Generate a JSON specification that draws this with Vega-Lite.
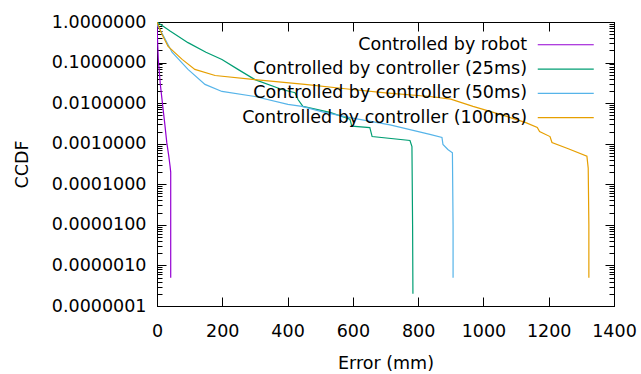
{
  "$schema": "https://vega.github.io/schema/vega-lite/v6.json",
  "width": 457,
  "height": 284,
  "autosize": {"type": "none"},
  "padding": {"left": 157, "top": 22, "right": 27, "bottom": 68},
  "background": "white",
  "config": {
    "view": {"stroke": "black", "strokeWidth": 1},
    "font": "DejaVu Sans",
    "axis": {
      "grid": false,
      "domainColor": "black",
      "tickColor": "black",
      "labelColor": "black",
      "titleColor": "black",
      "labelFont": "DejaVu Sans",
      "labelFontSize": 17.5,
      "titleFont": "DejaVu Sans",
      "titleFontSize": 17.5,
      "titleFontWeight": "normal",
      "domainWidth": 1,
      "tickWidth": 1,
      "labelFlush": false
    }
  },
  "data": {
    "values": [
      {"series": "Controlled by robot", "x": 0, "y": 1},
      {"series": "Controlled by robot", "x": 1, "y": 0.5},
      {"series": "Controlled by robot", "x": 4, "y": 0.12},
      {"series": "Controlled by robot", "x": 10, "y": 0.03},
      {"series": "Controlled by robot", "x": 17, "y": 0.0093},
      {"series": "Controlled by robot", "x": 24, "y": 0.003},
      {"series": "Controlled by robot", "x": 30, "y": 0.00106},
      {"series": "Controlled by robot", "x": 36, "y": 0.0005},
      {"series": "Controlled by robot", "x": 40, "y": 0.00028},
      {"series": "Controlled by robot", "x": 42, "y": 0.0002},
      {"series": "Controlled by robot", "x": 42, "y": 0.00001},
      {"series": "Controlled by robot", "x": 42, "y": 5e-7},

      {"series": "Controlled by controller (25ms)", "x": 0, "y": 1},
      {"series": "Controlled by controller (25ms)", "x": 40, "y": 0.6},
      {"series": "Controlled by controller (25ms)", "x": 95, "y": 0.31},
      {"series": "Controlled by controller (25ms)", "x": 150, "y": 0.18},
      {"series": "Controlled by controller (25ms)", "x": 199, "y": 0.119},
      {"series": "Controlled by controller (25ms)", "x": 248, "y": 0.068},
      {"series": "Controlled by controller (25ms)", "x": 300, "y": 0.038},
      {"series": "Controlled by controller (25ms)", "x": 383, "y": 0.0217},
      {"series": "Controlled by controller (25ms)", "x": 423, "y": 0.018},
      {"series": "Controlled by controller (25ms)", "x": 432, "y": 0.0123},
      {"series": "Controlled by controller (25ms)", "x": 447, "y": 0.0083},
      {"series": "Controlled by controller (25ms)", "x": 530, "y": 0.0059},
      {"series": "Controlled by controller (25ms)", "x": 591, "y": 0.004},
      {"series": "Controlled by controller (25ms)", "x": 597, "y": 0.0027},
      {"series": "Controlled by controller (25ms)", "x": 652, "y": 0.0025},
      {"series": "Controlled by controller (25ms)", "x": 659, "y": 0.0015},
      {"series": "Controlled by controller (25ms)", "x": 775, "y": 0.0012},
      {"series": "Controlled by controller (25ms)", "x": 781, "y": 0.00085},
      {"series": "Controlled by controller (25ms)", "x": 783, "y": 0.00001},
      {"series": "Controlled by controller (25ms)", "x": 784, "y": 2e-7},

      {"series": "Controlled by controller (50ms)", "x": 0, "y": 1},
      {"series": "Controlled by controller (50ms)", "x": 3, "y": 0.78},
      {"series": "Controlled by controller (50ms)", "x": 20, "y": 0.45},
      {"series": "Controlled by controller (50ms)", "x": 46, "y": 0.18},
      {"series": "Controlled by controller (50ms)", "x": 95, "y": 0.068},
      {"series": "Controlled by controller (50ms)", "x": 147, "y": 0.029},
      {"series": "Controlled by controller (50ms)", "x": 199, "y": 0.0194},
      {"series": "Controlled by controller (50ms)", "x": 300, "y": 0.0146},
      {"series": "Controlled by controller (50ms)", "x": 401, "y": 0.0093},
      {"series": "Controlled by controller (50ms)", "x": 444, "y": 0.0083},
      {"series": "Controlled by controller (50ms)", "x": 510, "y": 0.006},
      {"series": "Controlled by controller (50ms)", "x": 591, "y": 0.0044},
      {"series": "Controlled by controller (50ms)", "x": 714, "y": 0.0029},
      {"series": "Controlled by controller (50ms)", "x": 836, "y": 0.0017},
      {"series": "Controlled by controller (50ms)", "x": 873, "y": 0.00143},
      {"series": "Controlled by controller (50ms)", "x": 876, "y": 0.00096},
      {"series": "Controlled by controller (50ms)", "x": 891, "y": 0.00072},
      {"series": "Controlled by controller (50ms)", "x": 905, "y": 0.0006},
      {"series": "Controlled by controller (50ms)", "x": 907, "y": 0.00001},
      {"series": "Controlled by controller (50ms)", "x": 907, "y": 5e-7},

      {"series": "Controlled by controller (100ms)", "x": 0, "y": 1},
      {"series": "Controlled by controller (100ms)", "x": 15, "y": 0.5},
      {"series": "Controlled by controller (100ms)", "x": 34, "y": 0.25},
      {"series": "Controlled by controller (100ms)", "x": 77, "y": 0.12},
      {"series": "Controlled by controller (100ms)", "x": 116, "y": 0.068},
      {"series": "Controlled by controller (100ms)", "x": 178, "y": 0.048},
      {"series": "Controlled by controller (100ms)", "x": 300, "y": 0.038},
      {"series": "Controlled by controller (100ms)", "x": 453, "y": 0.029},
      {"series": "Controlled by controller (100ms)", "x": 591, "y": 0.022},
      {"series": "Controlled by controller (100ms)", "x": 700, "y": 0.018},
      {"series": "Controlled by controller (100ms)", "x": 836, "y": 0.0146},
      {"series": "Controlled by controller (100ms)", "x": 900, "y": 0.0125},
      {"series": "Controlled by controller (100ms)", "x": 968, "y": 0.0083},
      {"series": "Controlled by controller (100ms)", "x": 1072, "y": 0.0047},
      {"series": "Controlled by controller (100ms)", "x": 1130, "y": 0.0033},
      {"series": "Controlled by controller (100ms)", "x": 1165, "y": 0.0025},
      {"series": "Controlled by controller (100ms)", "x": 1172, "y": 0.002},
      {"series": "Controlled by controller (100ms)", "x": 1204, "y": 0.0015},
      {"series": "Controlled by controller (100ms)", "x": 1210, "y": 0.00107},
      {"series": "Controlled by controller (100ms)", "x": 1260, "y": 0.00075},
      {"series": "Controlled by controller (100ms)", "x": 1317, "y": 0.00049},
      {"series": "Controlled by controller (100ms)", "x": 1321, "y": 0.00025},
      {"series": "Controlled by controller (100ms)", "x": 1323, "y": 0.00001},
      {"series": "Controlled by controller (100ms)", "x": 1323, "y": 5e-7}
    ]
  },
  "layer": [
    {
      "mark": {"type": "line", "strokeWidth": 1.2, "clip": true},
      "encoding": {
        "x": {
          "field": "x", "type": "quantitative",
          "scale": {"domain": [0, 1400], "nice": false},
          "axis": {"orient": "bottom", "values": [0, 200, 400, 600, 800, 1000, 1200, 1400], "format": "d", "tickSize": -9, "labelPadding": 25, "title": "Error (mm)", "titlePadding": 15}
        },
        "y": {
          "field": "y", "type": "quantitative",
          "scale": {"type": "log", "domain": [1e-7, 1], "nice": false},
          "axis": {"orient": "left", "values": [1e-7, 1e-6, 1e-5, 1e-4, 1e-3, 1e-2, 1e-1, 1], "format": ".7f", "tickSize": -9, "labelPadding": 20, "title": "CCDF", "titlePadding": 20}
        },
        "color": {
          "field": "series", "type": "nominal",
          "scale": {
            "domain": ["Controlled by robot", "Controlled by controller (25ms)", "Controlled by controller (50ms)", "Controlled by controller (100ms)"],
            "range": ["#9400d3", "#009e73", "#56b4e9", "#e69f00"]
          },
          "legend": {
            "title": null, "orient": "none", "legendX": 400, "legendY": 14,
            "symbolType": "M-8,0H8", "symbolSize": 49, "symbolStrokeWidth": 1.2,
            "labelAlign": "right", "labelOffset": -47.5, "labelFontSize": 17.5, "labelFont": "DejaVu Sans",
            "labelColor": "black", "rowPadding": 5.3, "padding": 0, "labelLimit": 500
          }
        },
        "order": {"value": null}
      }
    },
    {
      "mark": {"type": "point", "opacity": 0},
      "encoding": {
        "x": {
          "field": "x", "type": "quantitative",
          "scale": {"domain": [0, 1400], "nice": false},
          "axis": {"orient": "top", "values": [0, 200, 400, 600, 800, 1000, 1200, 1400], "tickSize": -9, "labels": false, "title": null}
        },
        "y": {
          "field": "y", "type": "quantitative",
          "scale": {"type": "log", "domain": [1e-7, 1], "nice": false},
          "axis": {"orient": "left", "values": [2e-7, 3e-7, 4e-7, 5e-7, 6e-7, 7e-7, 8e-7, 9e-7, 2e-6, 3e-6, 4e-6, 5e-6, 6e-6, 7e-6, 8e-6, 9e-6, 2e-5, 3e-5, 4e-5, 5e-5, 6e-5, 7e-5, 8e-5, 9e-5, 2e-4, 3e-4, 4e-4, 5e-4, 6e-4, 7e-4, 8e-4, 9e-4, 0.002, 0.003, 0.004, 0.005, 0.006, 0.007, 0.008, 0.009, 0.02, 0.03, 0.04, 0.05, 0.06, 0.07, 0.08, 0.09, 0.2, 0.3, 0.4, 0.5, 0.6, 0.7, 0.8, 0.9], "tickSize": -5, "labels": false, "domain": false, "title": null}
        }
      }
    },
    {
      "mark": {"type": "point", "opacity": 0},
      "encoding": {
        "x": {"field": "x", "type": "quantitative", "scale": {"domain": [0, 1400], "nice": false}, "axis": null},
        "y": {
          "field": "y", "type": "quantitative",
          "scale": {"type": "log", "domain": [1e-7, 1], "nice": false},
          "axis": {"orient": "right", "values": [1e-7, 1e-6, 1e-5, 1e-4, 1e-3, 1e-2, 1e-1, 1], "tickSize": -9, "labels": false, "title": null}
        }
      }
    },
    {
      "mark": {"type": "point", "opacity": 0},
      "encoding": {
        "x": {"field": "x", "type": "quantitative", "scale": {"domain": [0, 1400], "nice": false}, "axis": null},
        "y": {
          "field": "y", "type": "quantitative",
          "scale": {"type": "log", "domain": [1e-7, 1], "nice": false},
          "axis": {"orient": "right", "values": [2e-7, 3e-7, 4e-7, 5e-7, 6e-7, 7e-7, 8e-7, 9e-7, 2e-6, 3e-6, 4e-6, 5e-6, 6e-6, 7e-6, 8e-6, 9e-6, 2e-5, 3e-5, 4e-5, 5e-5, 6e-5, 7e-5, 8e-5, 9e-5, 2e-4, 3e-4, 4e-4, 5e-4, 6e-4, 7e-4, 8e-4, 9e-4, 0.002, 0.003, 0.004, 0.005, 0.006, 0.007, 0.008, 0.009, 0.02, 0.03, 0.04, 0.05, 0.06, 0.07, 0.08, 0.09, 0.2, 0.3, 0.4, 0.5, 0.6, 0.7, 0.8, 0.9], "tickSize": -5, "labels": false, "domain": false, "title": null}
        }
      }
    }
  ],
  "resolve": {"axis": {"x": "independent", "y": "independent"}}
}
